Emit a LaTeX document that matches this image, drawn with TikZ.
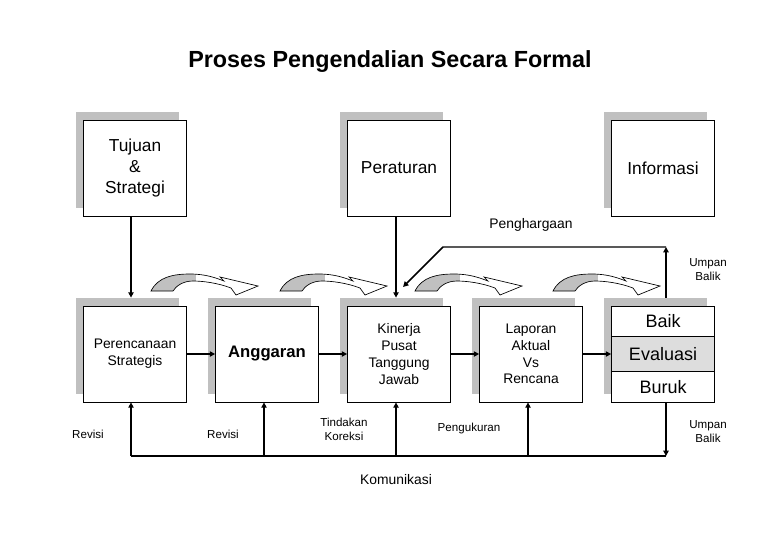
\documentclass[tikz,border=0pt]{standalone}
\usepackage{fontspec}
\setmainfont{Liberation Sans}
\usepackage{xcolor}
\usetikzlibrary{arrows.meta, positioning, calc, shadows}
\definecolor{bayangan}{RGB}{192,192,192}
\definecolor{abumuda}{RGB}{221,221,221}
\newcommand{\jalurlengkung}{(-107,5) .. controls (-100,-9) and (-85,-12) .. (-68,-12)
  .. controls (-52,-12) and (-42,-8) .. (-34,-5) -- (-38,-9) -- (0,0) -- (-22,9) -- (-27,2)
  .. controls (-40,-3) and (-55,-5) .. (-65,-5) .. controls (-75,-5) and (-82,0) .. (-85,5) -- cycle}

\begin{document}
\begin{tikzpicture}[
    x=0.75pt, y=-0.75pt,
    kotak/.style={draw, fill=white, line width=0.6pt, minimum width=77.25pt, minimum height=72pt,
                  inner sep=0pt, align=center, font=\fontsize{13}{15.7}\selectfont,
                  drop shadow={shadow xshift=-6pt, shadow yshift=6pt, opacity=1, fill=bayangan}},
    isi/.style={font=\fontsize{10.4}{12.6}\selectfont},
    keterangan/.style={align=center, inner sep=0pt, font=\fontsize{8.7}{10.5}\selectfont},
    panah/.style={-{Triangle[length=4pt, width=4pt]}, line width=1.1pt},
    garis/.style={line width=1.1pt},
    lengkung/.pic={
      \begin{scope}
        \fill[white] \jalurlengkung;
        \clip \jalurlengkung;
        \fill[bayangan] (-110,-20) rectangle (-62,12);
      \end{scope}
      \draw[line width=0.5pt] \jalurlengkung;
    }
  ]
    \useasboundingbox (0,0) rectangle (780,540);

    \node[font=\bfseries\fontsize{17.5}{21}\selectfont] (judul) at (390,62) {Proses Pengendalian Secara Formal};

    % baris atas
    \node[kotak] (tujuan) at (135,168) {Tujuan\\\&\\Strategi};
    \node[kotak] (peraturan) at (399,168) {Peraturan};
    \node[kotak] (informasi) at (663,168) {Informasi};

    % baris bawah
    \node[kotak, isi] (perencanaan) at (135,354) {Perencanaan\\Strategis};
    \node[kotak, font=\bfseries\fontsize{12.5}{15}\selectfont] (anggaran) at (267,354) {Anggaran};
    \node[kotak, isi] (kinerja) at (399,354) {Kinerja\\Pusat\\Tanggung\\Jawab};
    \node[kotak, isi] (laporan) at (531,354) {Laporan\\Aktual\\Vs\\Rencana};
    \node[kotak] (evaluasi) at (663,354) {};
    \node[draw, fill=abumuda, line width=0.6pt, minimum width=77.25pt, minimum height=26.25pt,
          inner sep=0pt, font=\fontsize{13.5}{16}\selectfont] (evaltengah) at (evaluasi.center) {Evaluasi};
    \node[font=\fontsize{13.5}{16}\selectfont] (baik) at ($(evaluasi.north)!0.5!(evaltengah.north)$) {Baik};
    \node[font=\fontsize{13.5}{16}\selectfont] (buruk) at ($(evaluasi.south)!0.5!(evaltengah.south)$) {Buruk};

    % panah lengkung
    \foreach \x in {258,387,522,660} \pic at (\x,286) {lengkung};

    % keterangan
    \node[font=\fontsize{10.4}{12.6}\selectfont] (penghargaan) at (531,225) {Penghargaan};
    \node[keterangan] (umpanatas) at (708,270) {Umpan\\Balik};
    \node[keterangan] (umpanbawah) at (708,432) {Umpan\\Balik};
    \node[keterangan] (revisisatu) at (88,434) {Revisi};
    \node[keterangan] (revisidua) at (223,434) {Revisi};
    \node[keterangan] (tindakan) at (344,429) {Tindakan\\Koreksi};
    \node[keterangan] (pengukuran) at (469,428) {Pengukuran};
    \node[font=\fontsize{10.4}{12.6}\selectfont] (komunikasi) at (396,480) {Komunikasi};

    % panah turun dari baris atas
    \draw[panah] ($(tujuan.south)+(-4,0)$) -- ($(perencanaan.north)+(-4,-8)$);
    \draw[panah] ($(peraturan.south)+(-3,0)$) -- ($(kinerja.north)+(-3,-8)$);

    % panah mendatar
    \draw[panah] (perencanaan) -- (anggaran);
    \draw[panah] (anggaran) -- (kinerja);
    \draw[panah] (kinerja) -- (laporan);
    \draw[panah] (laporan) -- (evaluasi);

    % umpan balik atas
    \coordinate (sudut) at (666,247);
    \coordinate (tekuk) at (443,247);
    \coordinate (ujung) at (403,287);
    \draw[panah] ($(evaluasi.north)+(3,-8)$) -- (sudut);
    \draw[panah] (sudut) -- (tekuk) -- (ujung);

    % umpan balik bawah
    \coordinate (kanan) at (666,456);
    \coordinate (kiri) at (131,456);
    \draw[panah] ($(evaluasi.south)+(3,0)$) -- (kanan);
    \draw[garis] (kanan) -- (kiri);
    \foreach \n/\d in {perencanaan/-4, anggaran/-3, kinerja/-3, laporan/-3} {
      \path ($(\n.south)+(\d,0)$) coordinate (b\n);
      \draw[panah] (b\n |- kiri) -- (b\n);
    }
  \end{tikzpicture}
\end{document}
